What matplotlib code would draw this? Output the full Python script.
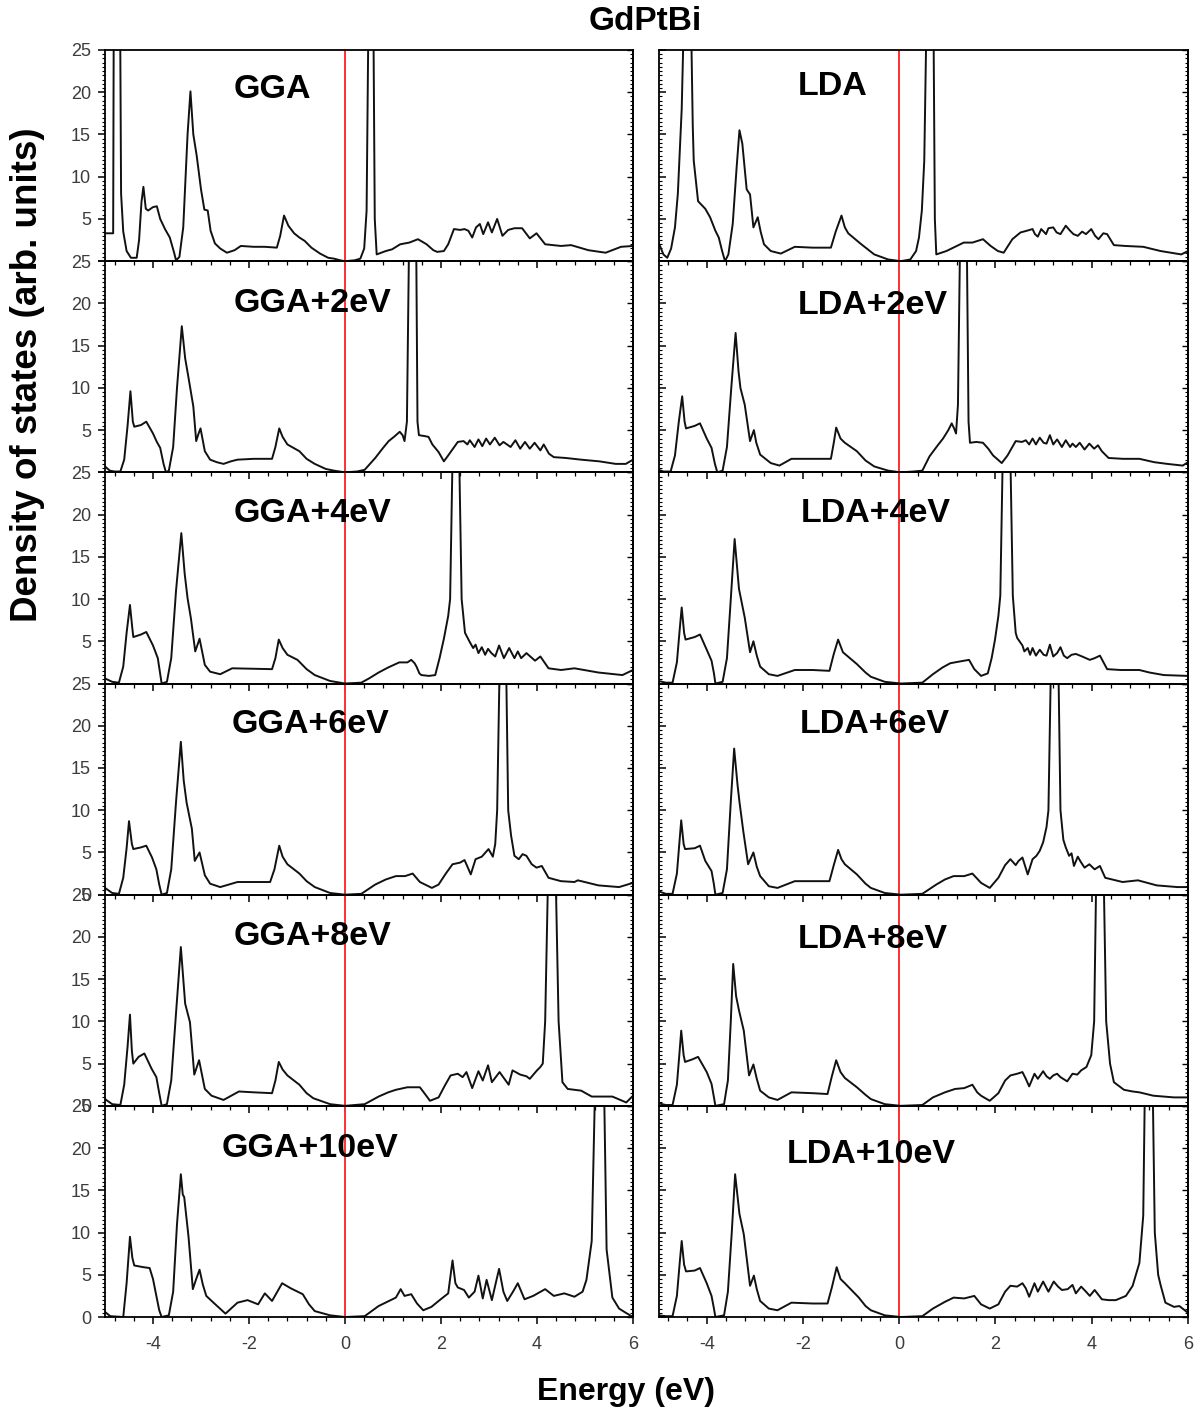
import numpy as np
import matplotlib
matplotlib.use("Agg")
import matplotlib.pyplot as plt
from matplotlib.ticker import MultipleLocator

plt.rcParams['font.family'] = ['Liberation Sans', 'DejaVu Sans']
plt.rcParams['axes.unicode_minus'] = False

# (energy in eV, density of states) for each functional / U value
gga = [(-5.00, 3.3), (-4.87, 3.3), (-4.83, 3.3), (-4.81, 45), (-4.70, 45), (-4.665, 8), (-4.62, 3.5),
       (-4.55, 1.2), (-4.46, 0.4), (-4.34, 0.4), (-4.29, 2.5), (-4.24, 7), (-4.20, 8.8), (-4.15, 6.2),
       (-4.10, 6.0), (-4.00, 6.4), (-3.92, 6.5), (-3.85, 5.0), (-3.75, 3.8), (-3.65, 2.8), (-3.56, 1.0),
       (-3.52, 0.1), (-3.45, 0.5), (-3.37, 4), (-3.28, 15), (-3.22, 20.1), (-3.16, 15), (-3.09, 12.5),
       (-3.00, 8.5), (-2.93, 6.1), (-2.86, 6.0), (-2.80, 3.6), (-2.71, 2.1), (-2.60, 1.5), (-2.46, 1.0),
       (-2.30, 1.3), (-2.17, 1.8), (-1.90, 1.7), (-1.67, 1.7), (-1.42, 1.6), (-1.35, 3.0), (-1.27, 5.4),
       (-1.18, 4.2), (-1.06, 3.3), (-0.95, 2.8), (-0.84, 2.4), (-0.70, 1.6), (-0.52, 0.9), (-0.35, 0.4),
       (-0.23, 0.3), (-0.10, 0.1), (0.00, 0.0), (0.20, 0.1), (0.32, 0.3), (0.40, 1.5), (0.45, 6),
       (0.49, 30), (0.54, 60), (0.59, 30), (0.62, 5), (0.66, 0.8), (0.85, 1.2), (0.98, 1.4), (1.15, 2.0),
       (1.34, 2.2), (1.52, 2.6), (1.70, 2.0), (1.84, 1.3), (1.92, 1.1), (2.06, 1.2), (2.15, 2.0),
       (2.27, 3.8), (2.40, 3.7), (2.49, 3.8), (2.57, 3.6), (2.65, 2.8), (2.73, 4.0), (2.81, 4.4),
       (2.88, 3.2), (2.98, 4.6), (3.06, 3.4), (3.17, 5.0), (3.28, 3.0), (3.40, 3.7), (3.53, 3.9),
       (3.69, 3.9), (3.85, 2.7), (3.99, 3.3), (4.17, 2.0), (4.50, 1.8), (4.71, 1.9), (5.07, 1.3),
       (5.43, 1.0), (5.75, 1.7), (6.00, 1.8)]

gga_2 = [(-5.00, 0.7), (-4.90, 0.2), (-4.80, 0.1), (-4.68, 0.1), (-4.60, 1.5), (-4.53, 5.5), (-4.47, 9.6),
         (-4.42, 6.0), (-4.39, 5.4), (-4.25, 5.6), (-4.14, 6.0), (-4.00, 4.6), (-3.92, 3.6), (-3.85, 2.9),
         (-3.78, 1.0), (-3.73, 0.0), (-3.67, 0.2), (-3.58, 3.0), (-3.50, 10), (-3.40, 17.3), (-3.33, 13.5),
         (-3.26, 11.2), (-3.16, 7.8), (-3.10, 3.7), (-3.05, 4.6), (-3.01, 5.2), (-2.97, 4.0), (-2.92, 2.5),
         (-2.81, 1.5), (-2.67, 1.2), (-2.53, 1.0), (-2.38, 1.3), (-2.24, 1.5), (-1.90, 1.6), (-1.52, 1.6),
         (-1.45, 3.0), (-1.37, 5.2), (-1.30, 4.2), (-1.20, 3.3), (-0.95, 2.5), (-0.80, 1.6), (-0.63, 1.0),
         (-0.40, 0.4), (-0.23, 0.2), (0.00, 0.0), (0.25, 0.1), (0.41, 0.3), (0.52, 1.0), (0.63, 1.7),
         (0.78, 2.8), (0.91, 3.7), (1.02, 4.2), (1.14, 4.8), (1.20, 4.4), (1.24, 3.7), (1.29, 6),
         (1.34, 30), (1.41, 60), (1.48, 30), (1.51, 6), (1.54, 4.4), (1.65, 4.3), (1.74, 4.2), (1.82, 3.3),
         (1.95, 2.4), (2.06, 1.3), (2.15, 2.0), (2.35, 3.6), (2.47, 3.7), (2.55, 3.3), (2.60, 3.8),
         (2.70, 3.0), (2.78, 3.9), (2.86, 3.1), (2.94, 4.0), (3.02, 3.3), (3.12, 4.1), (3.22, 3.2),
         (3.30, 3.6), (3.45, 3.0), (3.55, 3.8), (3.65, 2.8), (3.75, 3.6), (3.85, 2.8), (3.95, 3.5),
         (4.07, 2.6), (4.14, 3.3), (4.25, 2.2), (4.35, 1.8), (4.60, 1.7), (4.92, 1.5), (5.30, 1.3),
         (5.64, 1.0), (5.85, 1.0), (6.00, 1.5)]

gga_4 = [(-5.00, 0.6), (-4.85, 0.2), (-4.71, 0.1), (-4.62, 2.0), (-4.55, 6.0), (-4.48, 9.3), (-4.43, 6.5),
         (-4.41, 5.5), (-4.25, 5.8), (-4.14, 6.1), (-4.00, 4.5), (-3.90, 3.0), (-3.86, 1.5), (-3.82, 0.0),
         (-3.71, 0.2), (-3.62, 3.0), (-3.52, 11), (-3.41, 17.8), (-3.34, 13), (-3.28, 10.1), (-3.21, 7.7),
         (-3.12, 3.8), (-3.03, 5.3), (-2.92, 2.2), (-2.81, 1.4), (-2.60, 1.1), (-2.35, 1.8), (-1.52, 1.7),
         (-1.45, 3.0), (-1.38, 5.2), (-1.30, 4.2), (-1.20, 3.4), (-0.99, 2.8), (-0.80, 1.7), (-0.63, 1.0),
         (-0.31, 0.3), (0.00, 0.0), (0.34, 0.1), (0.50, 0.6), (0.70, 1.3), (0.90, 1.9), (1.13, 2.5),
         (1.30, 2.5), (1.38, 2.8), (1.45, 2.4), (1.49, 2.0), (1.55, 1.2), (1.59, 1.0), (1.75, 0.9),
         (1.88, 1.0), (1.97, 3.0), (2.06, 5.3), (2.15, 8), (2.19, 10), (2.25, 30), (2.31, 60), (2.37, 30),
         (2.43, 10), (2.50, 6), (2.60, 4.9), (2.67, 4.2), (2.72, 4.6), (2.78, 3.6), (2.85, 4.3),
         (2.92, 3.4), (2.98, 4.1), (3.05, 3.6), (3.13, 3.2), (3.21, 4.5), (3.31, 3.0), (3.42, 4.2),
         (3.53, 3.0), (3.60, 3.8), (3.67, 3.0), (3.78, 3.6), (3.96, 2.7), (4.07, 3.2), (4.24, 1.8),
         (4.50, 1.6), (4.78, 1.8), (5.28, 1.3), (5.78, 1.0), (6.00, 1.6)]

gga_6 = [(-5.00, 0.8), (-4.85, 0.2), (-4.71, 0.1), (-4.62, 2.0), (-4.55, 5.5), (-4.50, 8.7), (-4.44, 6.0),
         (-4.41, 5.4), (-4.25, 5.6), (-4.14, 5.8), (-4.02, 4.4), (-3.93, 3.0), (-3.87, 1.2), (-3.82, 0.0),
         (-3.71, 0.2), (-3.62, 3.0), (-3.52, 11), (-3.42, 18.1), (-3.36, 13.5), (-3.30, 10.9),
         (-3.19, 7.8), (-3.13, 4.0), (-3.03, 5.0), (-2.92, 2.3), (-2.81, 1.3), (-2.60, 0.9), (-2.24, 1.5),
         (-1.56, 1.5), (-1.47, 3.0), (-1.37, 5.8), (-1.30, 4.5), (-1.20, 3.6), (-0.95, 2.5), (-0.80, 1.6),
         (-0.63, 0.9), (-0.31, 0.2), (0.00, 0.0), (0.34, 0.1), (0.63, 1.2), (0.85, 1.8), (1.06, 2.2),
         (1.25, 2.2), (1.41, 2.5), (1.56, 1.5), (1.81, 0.8), (1.95, 1.2), (2.10, 2.5), (2.24, 3.6),
         (2.40, 3.8), (2.49, 4.1), (2.56, 3.2), (2.62, 2.4), (2.72, 4.2), (2.85, 4.5), (2.99, 5.4),
         (3.08, 4.5), (3.13, 6), (3.17, 10), (3.23, 30), (3.29, 60), (3.35, 30), (3.40, 10), (3.46, 7),
         (3.53, 4.6), (3.62, 4.2), (3.70, 4.8), (3.78, 4.6), (3.89, 3.6), (3.99, 3.2), (4.10, 3.4),
         (4.24, 2.0), (4.50, 1.6), (4.78, 1.5), (4.85, 1.7), (5.28, 1.1), (5.71, 0.9), (6.00, 1.4)]

gga_8 = [(-5.00, 0.8), (-4.85, 0.2), (-4.68, 0.1), (-4.60, 2.5), (-4.53, 7), (-4.48, 10.8), (-4.44, 6.5),
         (-4.41, 5.0), (-4.30, 5.8), (-4.18, 6.2), (-4.03, 4.4), (-3.93, 3.4), (-3.87, 1.5), (-3.82, 0.0),
         (-3.71, 0.2), (-3.62, 3.0), (-3.52, 11), (-3.42, 18.8), (-3.33, 12.1), (-3.23, 9.9),
         (-3.14, 3.7), (-3.04, 5.4), (-2.92, 2.0), (-2.78, 1.2), (-2.53, 0.7), (-2.21, 1.7), (-1.90, 1.6),
         (-1.52, 1.5), (-1.45, 3.0), (-1.38, 5.2), (-1.30, 4.3), (-1.20, 3.6), (-0.95, 2.5), (-0.80, 1.5),
         (-0.66, 0.9), (-0.31, 0.2), (0.00, 0.0), (0.41, 0.2), (0.70, 1.1), (0.90, 1.6), (1.06, 1.9),
         (1.30, 2.2), (1.56, 2.2), (1.68, 1.3), (1.77, 0.6), (1.95, 1.0), (2.08, 2.4), (2.20, 3.6),
         (2.35, 3.8), (2.45, 3.4), (2.53, 4.0), (2.65, 2.1), (2.78, 4.1), (2.87, 3.0), (2.98, 4.8),
         (3.06, 2.8), (3.22, 4.0), (3.41, 2.5), (3.49, 4.2), (3.65, 3.7), (3.78, 3.5), (3.85, 3.2),
         (4.00, 4.2), (4.07, 4.6), (4.12, 5.0), (4.17, 10), (4.24, 30), (4.31, 60), (4.38, 30),
         (4.45, 10), (4.53, 2.8), (4.64, 2.0), (4.92, 1.8), (5.14, 1.1), (5.57, 1.1), (5.86, 0.4),
         (6.00, 1.2)]

gga_10 = [(-5.00, 0.6), (-4.89, 0.1), (-4.62, 0.0), (-4.55, 4.0), (-4.48, 9.5), (-4.43, 7.0), (-4.39, 6.1),
          (-4.20, 5.9), (-4.07, 5.8), (-4.00, 4.5), (-3.93, 2.5), (-3.87, 0.8), (-3.82, 0.0), (-3.67, 0.2),
          (-3.58, 3.0), (-3.50, 11), (-3.42, 16.9), (-3.38, 14.5), (-3.35, 14.2), (-3.26, 9.5),
          (-3.17, 3.3), (-3.10, 4.5), (-3.03, 5.6), (-2.96, 3.8), (-2.89, 2.5), (-2.74, 1.7), (-2.49, 0.4),
          (-2.24, 1.7), (-2.03, 2.0), (-1.81, 1.5), (-1.67, 2.8), (-1.52, 1.9), (-1.31, 4.0), (-1.13, 3.4),
          (-0.88, 2.7), (-0.75, 1.5), (-0.63, 0.7), (-0.31, 0.2), (0.00, 0.0), (0.41, 0.1), (0.70, 1.3),
          (1.06, 2.3), (1.16, 3.3), (1.24, 2.5), (1.38, 2.7), (1.50, 1.6), (1.63, 0.8), (1.80, 1.2),
          (1.95, 1.9), (2.15, 2.8), (2.24, 6.7), (2.30, 4.0), (2.35, 3.5), (2.48, 3.2), (2.58, 2.3),
          (2.70, 3.0), (2.78, 4.9), (2.87, 2.2), (2.95, 4.4), (3.06, 2.0), (3.14, 4.0), (3.21, 5.7),
          (3.30, 3.0), (3.38, 1.9), (3.50, 3.0), (3.60, 4.0), (3.74, 2.1), (3.92, 2.5), (4.17, 3.3),
          (4.35, 2.5), (4.57, 2.8), (4.78, 2.4), (4.95, 3.0), (5.03, 4.4), (5.14, 9), (5.22, 30),
          (5.31, 60), (5.39, 30), (5.45, 8), (5.57, 2.3), (5.71, 1.0), (5.85, 0.5), (6.00, 0.0)]

lda = [(-5.00, 2.2), (-4.90, 0.8), (-4.82, 0.4), (-4.74, 1.5), (-4.66, 4.0), (-4.60, 8), (-4.52, 18),
       (-4.47, 30), (-4.40, 45), (-4.33, 30), (-4.29, 16), (-4.27, 11.9), (-4.18, 7.1), (-4.03, 6.2),
       (-3.93, 5.2), (-3.82, 3.6), (-3.75, 2.8), (-3.68, 1.2), (-3.62, 0.0), (-3.55, 0.8), (-3.46, 4.4),
       (-3.38, 11), (-3.32, 15.5), (-3.26, 13.9), (-3.17, 8.5), (-3.10, 7.9), (-3.03, 4.0), (-2.94, 5.2),
       (-2.88, 3.5), (-2.81, 2.0), (-2.67, 1.2), (-2.46, 0.9), (-2.17, 1.7), (-1.80, 1.6), (-1.42, 1.6),
       (-1.32, 3.5), (-1.20, 5.4), (-1.13, 4.0), (-1.06, 3.3), (-0.81, 2.1), (-0.52, 0.8), (-0.23, 0.2),
       (0.03, 0.0), (0.23, 0.2), (0.35, 1.2), (0.41, 2.8), (0.47, 6), (0.52, 11.9), (0.57, 30),
       (0.64, 60), (0.71, 30), (0.74, 5), (0.77, 0.8), (0.98, 1.2), (1.34, 2.2), (1.52, 2.2),
       (1.74, 2.6), (1.90, 1.8), (2.05, 1.2), (2.17, 1.0), (2.35, 2.6), (2.52, 3.4), (2.65, 3.6),
       (2.77, 3.8), (2.82, 3.2), (2.88, 2.9), (2.95, 3.8), (3.05, 3.2), (3.10, 3.9), (3.20, 4.0),
       (3.27, 3.4), (3.35, 3.2), (3.46, 4.2), (3.55, 3.6), (3.62, 3.2), (3.71, 3.0), (3.80, 3.5),
       (3.88, 3.2), (3.99, 3.8), (4.07, 3.0), (4.14, 2.6), (4.24, 3.3), (4.32, 3.2), (4.46, 1.9),
       (4.70, 1.8), (5.07, 1.7), (5.43, 1.2), (5.86, 0.8), (6.00, 1.2)]

lda_2 = [(-5.00, 0.3), (-4.90, 0.1), (-4.75, 0.1), (-4.66, 2.0), (-4.58, 6.0), (-4.51, 9.0), (-4.46, 6.0),
         (-4.43, 5.2), (-4.25, 5.5), (-4.14, 5.8), (-4.00, 4.0), (-3.90, 2.9), (-3.83, 1.0), (-3.78, 0.0),
         (-3.67, 0.2), (-3.58, 3.0), (-3.49, 10), (-3.40, 16.5), (-3.34, 12), (-3.30, 10.0), (-3.21, 8.0),
         (-3.10, 3.7), (-3.02, 5.0), (-2.97, 3.5), (-2.89, 2.1), (-2.67, 1.1), (-2.49, 0.8), (-2.24, 1.6),
         (-1.80, 1.6), (-1.42, 1.6), (-1.36, 3.5), (-1.31, 5.3), (-1.22, 4.0), (-1.13, 3.5), (-0.88, 2.5),
         (-0.70, 1.4), (-0.52, 0.7), (-0.23, 0.2), (0.03, 0.0), (0.30, 0.1), (0.48, 0.2), (0.63, 1.9),
         (0.80, 3.2), (0.91, 4.0), (1.02, 5.0), (1.09, 5.8), (1.14, 5.2), (1.18, 4.6), (1.22, 8),
         (1.27, 30), (1.34, 60), (1.40, 30), (1.44, 6), (1.47, 3.5), (1.60, 3.6), (1.74, 3.5), (1.85, 2.8),
         (1.95, 2.0), (2.13, 1.1), (2.25, 2.0), (2.42, 3.7), (2.55, 3.6), (2.63, 3.8), (2.70, 3.3),
         (2.77, 4.0), (2.84, 3.3), (2.92, 4.1), (3.00, 3.5), (3.06, 3.4), (3.13, 4.4), (3.20, 3.3),
         (3.28, 3.9), (3.38, 3.0), (3.46, 3.8), (3.55, 3.0), (3.60, 3.4), (3.67, 3.0), (3.75, 3.5),
         (3.85, 2.7), (3.95, 3.4), (4.05, 2.8), (4.13, 3.2), (4.21, 2.5), (4.35, 1.7), (4.65, 1.6),
         (4.99, 1.6), (5.30, 1.2), (5.57, 1.0), (5.89, 0.8), (6.00, 1.2)]

lda_4 = [(-5.00, 0.3), (-4.85, 0.1), (-4.71, 0.1), (-4.62, 2.5), (-4.56, 6.5), (-4.52, 9.0), (-4.47, 6.0),
         (-4.44, 5.2), (-4.25, 5.5), (-4.14, 5.8), (-4.00, 4.0), (-3.90, 2.7), (-3.85, 1.2), (-3.82, 0.0),
         (-3.67, 0.2), (-3.58, 3.0), (-3.50, 10), (-3.42, 17.1), (-3.33, 11.2), (-3.21, 7.8), (-3.10, 3.7),
         (-3.03, 5.0), (-2.96, 3.3), (-2.89, 2.0), (-2.71, 1.1), (-2.53, 0.9), (-2.17, 1.6), (-1.80, 1.6),
         (-1.45, 1.5), (-1.36, 3.5), (-1.27, 5.2), (-1.17, 3.7), (-0.88, 2.3), (-0.70, 1.3), (-0.59, 0.8),
         (-0.30, 0.2), (0.03, 0.0), (0.48, 0.1), (0.70, 1.1), (0.90, 1.9), (1.06, 2.4), (1.25, 2.6),
         (1.45, 2.8), (1.56, 1.7), (1.70, 0.9), (1.84, 1.2), (1.92, 3.0), (1.99, 5.2), (2.06, 8),
         (2.10, 10.4), (2.16, 30), (2.23, 60), (2.30, 30), (2.36, 10.4), (2.42, 6), (2.45, 5.4),
         (2.56, 4.5), (2.60, 3.8), (2.67, 4.2), (2.72, 3.4), (2.77, 4.2), (2.84, 3.3), (2.92, 4.0),
         (3.00, 3.4), (3.06, 3.3), (3.13, 4.6), (3.20, 3.2), (3.28, 3.6), (3.35, 4.3), (3.42, 3.3),
         (3.49, 3.0), (3.58, 3.4), (3.67, 3.5), (3.80, 3.2), (3.96, 2.8), (4.06, 3.0), (4.17, 3.3),
         (4.32, 1.7), (4.60, 1.6), (4.99, 1.6), (5.20, 1.3), (5.50, 1.0), (6.00, 0.9)]

lda_6 = [(-5.00, 0.4), (-4.85, 0.1), (-4.71, 0.1), (-4.62, 2.5), (-4.57, 6.0), (-4.53, 8.8), (-4.48, 6.0),
         (-4.45, 5.4), (-4.25, 5.5), (-4.14, 5.8), (-4.03, 4.0), (-3.90, 2.8), (-3.85, 1.2), (-3.82, 0.0),
         (-3.67, 0.2), (-3.58, 3.0), (-3.50, 11), (-3.43, 17.3), (-3.36, 13), (-3.32, 11), (-3.24, 7.5),
         (-3.14, 3.6), (-3.03, 5.0), (-2.96, 3.3), (-2.89, 2.2), (-2.71, 1.0), (-2.53, 0.8), (-2.17, 1.6),
         (-1.80, 1.6), (-1.45, 1.6), (-1.36, 3.5), (-1.27, 5.3), (-1.20, 4.2), (-1.13, 3.6), (-0.88, 2.4),
         (-0.70, 1.3), (-0.59, 0.8), (-0.30, 0.2), (0.03, 0.0), (0.48, 0.1), (0.77, 1.2), (0.95, 1.8),
         (1.13, 2.2), (1.35, 2.2), (1.52, 2.5), (1.70, 1.4), (1.88, 0.8), (2.06, 2.0), (2.20, 3.5),
         (2.31, 4.2), (2.42, 3.5), (2.48, 4.0), (2.56, 4.4), (2.67, 2.4), (2.77, 4.2), (2.85, 4.6),
         (2.92, 5.2), (2.99, 6.2), (3.06, 8), (3.10, 10), (3.16, 30), (3.23, 60), (3.30, 30), (3.35, 10),
         (3.41, 6.5), (3.46, 5.6), (3.53, 4.6), (3.58, 4.9), (3.63, 3.4), (3.71, 4.5), (3.77, 3.9),
         (3.85, 3.2), (3.95, 3.6), (4.06, 3.0), (4.17, 3.4), (4.28, 2.0), (4.64, 1.5), (4.96, 1.7),
         (5.35, 1.1), (5.78, 0.9), (6.00, 0.9)]

lda_8 = [(-5.00, 0.3), (-4.85, 0.1), (-4.71, 0.1), (-4.62, 2.5), (-4.57, 6.0), (-4.53, 8.9), (-4.48, 6.0),
         (-4.45, 5.2), (-4.30, 5.5), (-4.18, 5.8), (-4.00, 4.0), (-3.90, 2.6), (-3.85, 1.0), (-3.82, 0.0),
         (-3.64, 0.2), (-3.56, 3.0), (-3.50, 10), (-3.45, 16.8), (-3.39, 13), (-3.33, 11.3), (-3.23, 8.9),
         (-3.12, 3.6), (-3.03, 4.9), (-2.96, 3.2), (-2.89, 1.8), (-2.71, 1.0), (-2.53, 0.7), (-2.24, 1.6),
         (-1.80, 1.5), (-1.49, 1.4), (-1.40, 3.5), (-1.31, 5.4), (-1.22, 4.0), (-1.13, 3.3), (-0.88, 2.2),
         (-0.70, 1.3), (-0.59, 0.8), (-0.30, 0.2), (0.03, 0.0), (0.48, 0.1), (0.70, 1.0), (0.95, 1.6),
         (1.16, 2.0), (1.35, 2.1), (1.52, 2.5), (1.62, 1.6), (1.70, 1.2), (1.88, 0.6), (2.06, 1.5),
         (2.20, 3.0), (2.31, 3.6), (2.45, 3.8), (2.56, 4.0), (2.63, 3.2), (2.70, 2.3), (2.81, 3.8),
         (2.88, 3.2), (2.99, 4.1), (3.06, 3.5), (3.13, 3.2), (3.20, 3.6), (3.28, 3.8), (3.35, 3.4),
         (3.49, 2.9), (3.60, 3.8), (3.70, 3.7), (3.78, 4.2), (3.89, 4.6), (3.99, 6), (4.05, 10),
         (4.10, 30), (4.17, 60), (4.24, 30), (4.30, 10), (4.38, 5), (4.46, 2.8), (4.67, 1.9), (4.85, 1.7),
         (4.99, 1.6), (5.28, 1.2), (5.71, 1.0), (6.00, 1.0)]

lda_10 = [(-5.00, 0.2), (-4.85, 0.1), (-4.71, 0.1), (-4.62, 2.5), (-4.56, 6.5), (-4.52, 9.0), (-4.47, 6.2),
          (-4.43, 5.4), (-4.25, 5.5), (-4.14, 5.8), (-4.00, 4.0), (-3.90, 2.5), (-3.85, 1.0), (-3.82, 0.0),
          (-3.64, 0.2), (-3.56, 3.0), (-3.48, 10), (-3.41, 16.9), (-3.32, 12.2), (-3.23, 9.8),
          (-3.10, 3.7), (-3.02, 4.9), (-2.96, 3.3), (-2.89, 1.9), (-2.71, 1.0), (-2.53, 0.8), (-2.24, 1.7),
          (-1.80, 1.6), (-1.49, 1.6), (-1.40, 3.5), (-1.30, 5.9), (-1.22, 4.5), (-1.13, 4.0), (-0.84, 2.3),
          (-0.70, 1.3), (-0.59, 0.8), (-0.30, 0.2), (0.03, 0.0), (0.48, 0.1), (0.70, 1.0), (0.95, 1.8),
          (1.13, 2.3), (1.35, 2.2), (1.56, 2.5), (1.70, 1.5), (1.88, 1.0), (2.06, 1.5), (2.20, 3.0),
          (2.31, 3.7), (2.45, 3.6), (2.56, 4.0), (2.63, 3.4), (2.70, 2.4), (2.81, 4.0), (2.88, 3.0),
          (2.99, 4.2), (3.10, 3.0), (3.21, 4.2), (3.30, 3.6), (3.38, 3.2), (3.50, 3.3), (3.60, 3.8),
          (3.67, 2.8), (3.78, 3.6), (3.88, 3.0), (3.96, 2.5), (4.06, 3.2), (4.21, 2.1), (4.35, 2.0),
          (4.50, 2.0), (4.71, 2.5), (4.85, 3.7), (4.99, 6.4), (5.07, 12), (5.11, 30), (5.185, 60),
          (5.26, 30), (5.31, 10), (5.38, 5), (5.43, 3.8), (5.53, 1.7), (5.71, 1.2), (5.82, 1.3),
          (6.00, 0.5)]

gga_labels = ["GGA", "GGA+2eV", "GGA+4eV", "GGA+6eV", "GGA+8eV", "GGA+10eV"]
lda_labels = ["LDA", "LDA+2eV", "LDA+4eV", "LDA+6eV", "LDA+8eV", "LDA+10eV"]
gga_sets = [gga, gga_2, gga_4, gga_6, gga_8, gga_10]
lda_sets = [lda, lda_2, lda_4, lda_6, lda_8, lda_10]

# label placement (left edge in eV, baseline in DOS units)
gga_lab_pos = [(-2.33, 19.3), (-2.33, 19.0), (-2.33, 19.15), (-2.37, 19.1), (-2.33, 19.05), (-2.56, 18.95)]
lda_lab_pos = [(-2.11, 19.7), (-2.11, 18.8), (-2.04, 19.15), (-2.07, 19.1), (-2.11, 18.65), (-2.33, 18.2)]

W, H = 1201, 1413
fig = plt.figure(figsize=(W / 100, H / 100), dpi=100)
fig.patch.set_facecolor('white')

col_left = [105 / W, 658.6 / W]
col_width = [528 / W, 529.4 / W]
top_px, row_px = 50.0, 211.17
tick_color = '#3c3c3c'

for c, (sets, labels, lab_pos) in enumerate([(gga_sets, gga_labels, gga_lab_pos),
                                             (lda_sets, lda_labels, lda_lab_pos)]):
    for r in range(6):
        bottom = 1 - (top_px + (r + 1) * row_px) / H
        ax = fig.add_axes([col_left[c], bottom, col_width[c], row_px / H])
        ax.set_facecolor('none')

        e, dos = np.array(sets[r]).T
        ax.axvline(0, color='#ff3030', lw=1.4, zorder=1)
        ax.plot(e, dos, color='#111111', lw=1.4, zorder=2, solid_joinstyle='round')

        ax.set_xlim(-5, 6)
        ax.set_ylim(0, 25)
        for s in ax.spines.values():
            s.set_linewidth(1.3)

        ax.xaxis.set_major_locator(MultipleLocator(2))
        ax.xaxis.set_minor_locator(MultipleLocator(0.4))
        ax.tick_params(axis='x', which='both', direction='out', top=False,
                       labelbottom=(r == 5), labelsize=13, labelcolor=tick_color, pad=9)
        ax.tick_params(axis='x', which='major', length=5, width=1.1)
        ax.tick_params(axis='x', which='minor', length=3, width=0.9)

        ax.set_yticks([0, 5, 10, 15, 20, 25])
        ax.yaxis.set_minor_locator(MultipleLocator(0.5))
        ax.tick_params(axis='y', which='both', direction='out' if c == 0 else 'in',
                       right=False, labelleft=(c == 0), labelsize=13,
                       labelcolor=tick_color, pad=5)
        ax.tick_params(axis='y', which='major', length=5, width=1.1)
        ax.tick_params(axis='y', which='minor', length=2.5, width=0.8)
        if c == 0:
            ylabels = ['0' if r >= 3 else '', '5', '10', '15', '20', '25']
            ax.set_yticklabels(ylabels)

        # small inward ticks along the right frame
        sec = ax.secondary_yaxis('right')
        sec.yaxis.set_major_locator(MultipleLocator(5))
        sec.yaxis.set_minor_locator(MultipleLocator(0.5))
        sec.tick_params(which='both', direction='in', labelright=False)
        sec.tick_params(which='major', length=4, width=1.0)
        sec.tick_params(which='minor', length=2.5, width=0.8)
        sec.spines['right'].set_linewidth(1.3)

        lx, ly = lab_pos[r]
        ax.text(lx, ly, labels[r], fontsize=24.5, fontweight='bold', ha='left', va='baseline', zorder=3)

fig.text(645 / W, 1 - 22 / H, "GdPtBi", fontsize=24, fontweight='bold', ha='center', va='center')
fig.text(28 / W, 1 - 375 / H, "Density of states (arb. units)", fontsize=26.5, fontweight='bold',
         rotation=90, ha='center', va='center')
fig.text(626 / W, 1 - 1392 / H, "Energy (eV)", fontsize=23, fontweight='bold', ha='center', va='center')

fig.savefig("out.png", dpi=100, facecolor='white')
